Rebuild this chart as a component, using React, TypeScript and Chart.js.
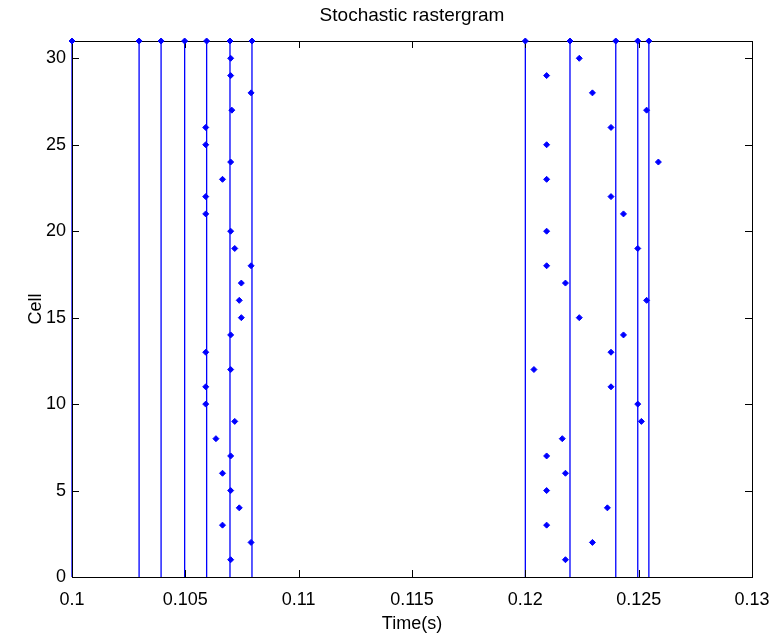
import React, { useEffect, useRef } from "react";
import { Chart, registerables } from "chart.js";

Chart.register(...registerables);

const TITLE = "Stochastic rastergram";
const X_LABEL = "Time(s)";
const Y_LABEL = "Cell";

const cellIds = [
  1, 2, 3, 4, 5, 6, 7, 8, 9, 10, 11, 12, 13, 14, 15, 16, 17, 18, 19, 20, 21, 22, 23, 24, 25, 26, 27, 28, 29, 30,
];

// first burst (around 0.106 s), one spike per cell 1..30
const burst1Times = [
  0.107, 0.1079, 0.10664, 0.10738, 0.107, 0.10664, 0.107, 0.10635, 0.10718, 0.1059, 0.1059, 0.107, 0.1059, 0.107,
  0.10747, 0.10738, 0.10747, 0.1079, 0.10718, 0.107, 0.1059, 0.1059, 0.10664, 0.107, 0.1059, 0.1059, 0.10705,
  0.1079, 0.107, 0.107,
];

// second burst (around 0.122 s), one spike per cell 1..30
const burst2Times = [
  0.12177, 0.12296, 0.12094, 0.12362, 0.12094, 0.12177, 0.12094, 0.12163, 0.12512, 0.12496, 0.12378, 0.12038,
  0.12378, 0.12433, 0.12238, 0.12535, 0.12177, 0.12094, 0.12496, 0.12094, 0.12433, 0.12378, 0.12094, 0.12587,
  0.12094, 0.12378, 0.12535, 0.12296, 0.12094, 0.12238,
];

// cell 31 spikes, drawn as stems from 0 up to 31
const stemCell = 31;
const stemTimes = [
  0.1, 0.10296, 0.10393, 0.10497, 0.10594, 0.10697, 0.10794, 0.12, 0.12197, 0.12399, 0.12496, 0.12545,
];

const xTicks = [0.1, 0.105, 0.11, 0.115, 0.12, 0.125, 0.13];
const xTickLabels = ["0.1", "0.105", "0.11", "0.115", "0.12", "0.125", "0.13"];
const yTicks = [0, 5, 10, 15, 20, 25, 30];
const yTickLabels = ["0", "5", "10", "15", "20", "25", "30"];

const X_MIN = 0.1;
const X_MAX = 0.13;
const Y_MIN = 0;
const Y_MAX = 31;

const BLUE = "#0000ff";
const FONT = "'Liberation Sans', Arial, Helvetica, sans-serif";

export default function App() {
  const ref = useRef<HTMLCanvasElement | null>(null);

  useEffect(() => {
    document.body.style.margin = "0";
    const canvas = ref.current;
    if (!canvas) return;

    const spikes: { x: number; y: number }[] = [];
    cellIds.forEach((c, i) => {
      spikes.push({ x: burst1Times[i], y: c });
      spikes.push({ x: burst2Times[i], y: c });
    });
    stemTimes.forEach((t) => spikes.push({ x: t, y: stemCell }));

    const stems: { x: number; y: number | null }[] = [];
    stemTimes.forEach((t) => {
      stems.push({ x: t, y: Y_MIN });
      stems.push({ x: t, y: stemCell });
      stems.push({ x: t, y: null });
    });

    const boxPlugin = {
      id: "boxAndTicks",
      afterDatasetDraw(chart: any, args: any) {
        if (args.index !== 1) return;
        const { ctx, chartArea } = chart;
        const xs = chart.scales.x;
        const ys = chart.scales.y;
        const L = 7;
        ctx.save();
        ctx.strokeStyle = "#000";
        ctx.lineWidth = 1;
        ctx.beginPath();
        xTicks.forEach((v) => {
          const px = Math.round(xs.getPixelForValue(v)) + 0.5;
          ctx.moveTo(px, chartArea.bottom);
          ctx.lineTo(px, chartArea.bottom - L);
          ctx.moveTo(px, chartArea.top);
          ctx.lineTo(px, chartArea.top + L);
        });
        yTicks.forEach((v) => {
          const py = Math.round(ys.getPixelForValue(v)) + 0.5;
          ctx.moveTo(chartArea.left, py);
          ctx.lineTo(chartArea.left + L, py);
          ctx.moveTo(chartArea.right, py);
          ctx.lineTo(chartArea.right - L, py);
        });
        ctx.stroke();
        ctx.strokeRect(
          Math.round(chartArea.left) + 0.5,
          Math.round(chartArea.top) + 0.5,
          Math.round(chartArea.right - chartArea.left),
          Math.round(chartArea.bottom - chartArea.top)
        );
        ctx.restore();
      },
    };

    const chart = new Chart(canvas, {
      type: "scatter",
      data: {
        datasets: [
          {
            label: "spikes",
            data: spikes,
            order: 0,
            pointStyle: "rectRot",
            pointRadius: 3,
            pointBorderWidth: 1,
            backgroundColor: BLUE,
            borderColor: BLUE,
            showLine: false,
            clip: false as any,
          },
          {
            label: "stems",
            data: stems as any,
            order: 1,
            showLine: true,
            spanGaps: false,
            pointRadius: 0,
            borderColor: BLUE,
            borderWidth: 1.3,
            clip: false as any,
          },
        ],
      },
      options: {
        responsive: false,
        animation: false,
        layout: { padding: { left: 0, right: 19, top: 0, bottom: 0 } },
        plugins: {
          legend: { display: false },
          tooltip: { enabled: false },
          title: {
            display: true,
            text: TITLE,
            color: "#000",
            fullSize: false,
            font: { family: FONT, size: 19, weight: "normal" },
            padding: { top: 4, bottom: 14.2 },
          },
        },
        scales: {
          x: {
            type: "linear",
            min: X_MIN,
            max: X_MAX,
            grid: { display: false, drawTicks: false },
            border: { display: false },
            afterBuildTicks: (s: any) => {
              s.ticks = xTicks.map((v) => ({ value: v }));
            },
            afterFit: (s: any) => {
              s.height = 64;
              s.paddingLeft = 0;
              s.paddingRight = 0;
            },
            ticks: {
              color: "#000",
              padding: 12,
              maxRotation: 0,
              autoSkip: false,
              font: { family: FONT, size: 18 },
              callback: (v: any) => {
                const i = xTicks.findIndex((t) => Math.abs(t - Number(v)) < 1e-9);
                return i >= 0 ? xTickLabels[i] : "";
              },
            },
            title: {
              display: true,
              text: X_LABEL,
              color: "#000",
              font: { family: FONT, size: 18 },
              padding: { top: 0, bottom: 6 },
            },
          },
          y: {
            type: "linear",
            min: Y_MIN,
            max: Y_MAX,
            grid: { display: false, drawTicks: false },
            border: { display: false },
            afterBuildTicks: (s: any) => {
              s.ticks = yTicks.map((v) => ({ value: v }));
            },
            afterFit: (s: any) => {
              s.width = 72;
              s.paddingTop = 0;
              s.paddingBottom = 0;
            },
            ticks: {
              color: "#000",
              padding: 6,
              autoSkip: false,
              font: { family: FONT, size: 18 },
              callback: (v: any) => {
                const i = yTicks.indexOf(Number(v));
                return i >= 0 ? yTickLabels[i] : "";
              },
            },
            title: {
              display: true,
              text: Y_LABEL,
              color: "#000",
              font: { family: FONT, size: 18 },
              padding: { top: 25, bottom: 0 },
            },
          },
        },
      },
      plugins: [boxPlugin],
    });

    return () => chart.destroy();
  }, []);

  return <canvas ref={ref} width={771} height={641} style={{ display: "block" }} />;
}
